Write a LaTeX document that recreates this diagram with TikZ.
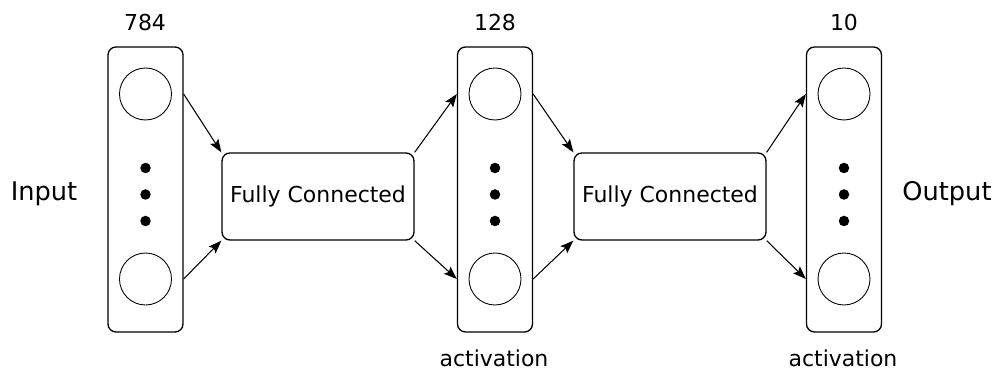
\documentclass[tikz,border=0pt]{standalone}
\usepackage{fontspec}
\setmainfont{DejaVu Sans}
\usetikzlibrary{arrows.meta}
\begin{document}
\begin{tikzpicture}[x=0.02cm,y=-0.02cm,
  layerbox/.style={draw,rounded corners=4.5pt,line width=0.75pt,minimum width=1.5cm,minimum height=5.7cm,inner sep=0pt},
  fcbox/.style={draw,rounded corners=4.5pt,line width=0.75pt,minimum width=3.84cm,minimum height=1.74cm,inner sep=0pt,font=\fontsize{12.5}{15}\selectfont},
  neuron/.style={draw,circle,line width=0.5pt,minimum size=1.04cm,inner sep=0pt},
  dotmark/.style={fill,circle,minimum size=0.21cm,inner sep=0pt},
  smalltxt/.style={font=\fontsize{12.5}{15}\selectfont},
  bigtxt/.style={font=\fontsize{14.6}{17}\selectfont},
  conn/.style={line width=0.6pt,-{Stealth[length=7.5pt,width=5.5pt,inset=1.5pt]}}]
\useasboundingbox (0,0) rectangle (992,371);

% three neuron layers: box, two neurons and an ellipsis of dots
\foreach \name/\cx in {la/145.5, lb/495, lc/844}{
  \node[layerbox] (\name) at (\cx,189.5) {};
  \node[neuron] (\name t) at (\cx,94) {};
  \node[neuron] (\name b) at (\cx,279) {};
  \node[dotmark] (\name d1) at (\cx,168) {};
  \node[dotmark] (\name d2) at (\cx,194.5) {};
  \node[dotmark] (\name d3) at (\cx,221) {};
}

% fully connected blocks
\node[fcbox] (fa) at (318,196.5) {Fully Connected};
\node[fcbox] (fb) at (670,196.5) {Fully Connected};

% labels
\node[smalltxt] (na) at (145,23) {784};
\node[smalltxt] (nb) at (495,23) {128};
\node[smalltxt] (nc) at (844,23) {10};
\node[smalltxt] (actb) at (494,358) {activation};
\node[smalltxt] (actc) at (843,358) {activation};
\node[bigtxt] (inp) at (44,194) {Input};
\node[bigtxt] (outp) at (947,194) {Output};

% connectors
\draw[conn] (la.east |- lat) -- (fa.north west);
\draw[conn] (la.east |- lab) -- (fa.south west);
\draw[conn] (fa.north east) -- (lb.west |- lbt);
\draw[conn] (fa.south east) -- (lb.west |- lbb);
\draw[conn] (lb.east |- lbt) -- (fb.north west);
\draw[conn] (lb.east |- lbb) -- (fb.south west);
\draw[conn] (fb.north east) -- (lc.west |- lct);
\draw[conn] (fb.south east) -- (lc.west |- lcb);
\end{tikzpicture}
\end{document}
